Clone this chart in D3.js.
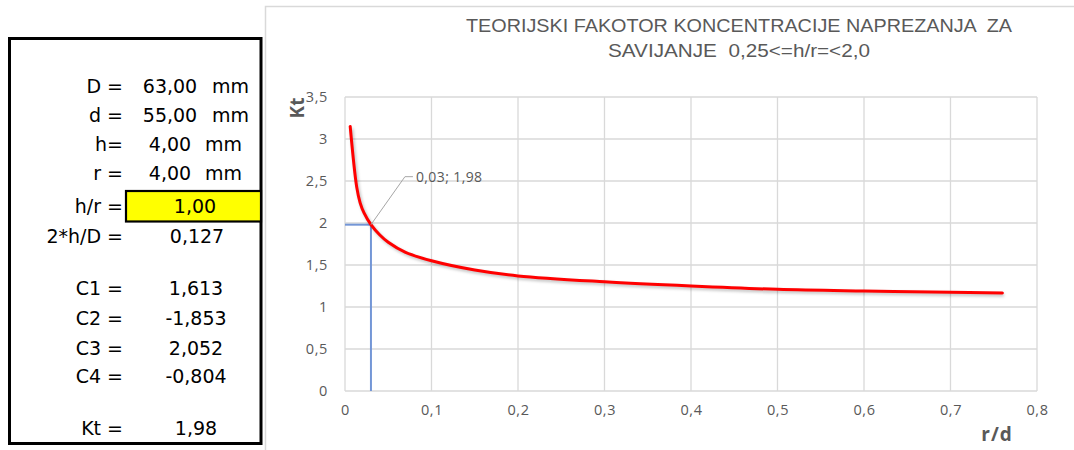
<!DOCTYPE html>
<html>
<head>
<meta charset="utf-8">
<script src="https://cdn.jsdelivr.net/npm/d3@7"></script>
<style>
  html, body { margin: 0; padding: 0; background: #fff; }
  svg { display: block; }
</style>
</head>
<body>
<svg id="chart" width="1074" height="450"></svg>
<script>
// ---------- data ----------
const rdValues = [0.006, 0.0135, 0.0175, 0.022, 0.03, 0.04, 0.05, 0.07, 0.1, 0.15, 0.2, 0.3, 0.4, 0.5, 0.6, 0.7, 0.76];
const ktValues = [3.15, 2.43, 2.24, 2.12, 1.98, 1.86, 1.77, 1.65, 1.55, 1.44, 1.37, 1.30, 1.25, 1.21, 1.19, 1.175, 1.167];
const markerPoint = [0.03, 1.98];
const markerLabel = "0,03; 1,98";
const xTicks = [0, 0.1, 0.2, 0.3, 0.4, 0.5, 0.6, 0.7, 0.8];
const yTicks = [0, 0.5, 1, 1.5, 2, 2.5, 3, 3.5];
const titleLines = ["TEORIJSKI FAKOTOR KONCENTRACIJE NAPREZANJA  ZA", "SAVIJANJE  0,25<=h/r=<2,0"];
const xAxisTitle = "r/d";
const yAxisTitle = "Kt";
const tableLabels = ["D =", "d =", "h=", "r =", "h/r =", "2*h/D =", "C1 =", "C2 =", "C3 =", "C4 =", "Kt ="];
const tableValues = ["63,00", "55,00", "4,00", "4,00", "1,00", "0,127", "1,613", "-1,853", "2,052", "-0,804", "1,98"];
const tableUnits  = ["mm", "mm", "mm", "mm", "", "", "", "", "", "", ""];

// ---------- layout ----------
const svg = d3.select("#chart");
const fmt = v => String(+v.toFixed(3)).replace(".", ",");

const x = d3.scaleLinear().domain([0, 0.8]).range([345, 1037]);
const y = d3.scaleLinear().domain([0, 3.5]).range([391, 97]);

// chart area border
svg.append("rect").attr("x", 265.5).attr("y", 6.5).attr("width", 900).attr("height", 600)
  .attr("fill", "#fff").attr("stroke", "#d9d9d9").attr("stroke-width", 1.5);

// ---------- left table ----------
svg.append("rect").attr("x", 9.5).attr("y", 38.5).attr("width", 251.5).attr("height", 405)
  .attr("fill", "#fff").attr("stroke", "#000").attr("stroke-width", 3);
svg.append("rect").attr("x", 126).attr("y", 191).attr("width", 135).attr("height", 30.5)
  .attr("fill", "#ffff00").attr("stroke", "#000").attr("stroke-width", 2.2);

const rowY = [93, 122, 151, 180, 213, 243, 295, 325, 355, 383, 435];
const valueCx = [170, 170, 170, 170, 195, 197, 196, 196, 196, 196, 196];
const unitX = [212, 212, 205, 205];
const tableFont = "'DejaVu Sans', Verdana, sans-serif";
const tg = svg.append("g").attr("font-family", tableFont).attr("font-size", 19).attr("fill", "#000");
tableLabels.forEach((t, i) => {
  tg.append("text").attr("x", 123).attr("y", rowY[i]).attr("text-anchor", "end").text(t);
  tg.append("text").attr("x", valueCx[i]).attr("y", rowY[i]).attr("text-anchor", "middle").text(tableValues[i]);
  if (tableUnits[i]) tg.append("text").attr("x", unitX[i]).attr("y", rowY[i]).text(tableUnits[i]);
});

// ---------- chart ----------
const grid = svg.append("g").attr("stroke", "#d9d9d9").attr("stroke-width", 1.3);
grid.selectAll("line.h").data(yTicks).join("line")
  .attr("x1", x(0)).attr("x2", x(0.8)).attr("y1", d => y(d)).attr("y2", d => y(d));
grid.selectAll("line.v").data(xTicks).join("line")
  .attr("y1", y(0)).attr("y2", y(3.5)).attr("x1", d => x(d)).attr("x2", d => x(d));

const tickFont = "'Open Sans', sans-serif";
const yAxis = d3.axisLeft(y).tickValues(yTicks).tickFormat(fmt).tickSize(0).tickPadding(17);
const gy = svg.append("g").attr("transform", `translate(${x(0)},0)`).call(yAxis);
gy.select(".domain").remove();
gy.selectAll("text").attr("font-family", tickFont).attr("font-size", 14.5).attr("fill", "#595959")
  .attr("letter-spacing", 0.6);

const xAxis = d3.axisBottom(x).tickValues(xTicks).tickFormat(fmt).tickSize(0).tickPadding(14);
const gx = svg.append("g").attr("transform", `translate(0,${y(0)})`).call(xAxis);
gx.select(".domain").remove();
gx.selectAll("text").attr("font-family", tickFont).attr("font-size", 14.5).attr("fill", "#595959")
  .attr("letter-spacing", 0.6);

// axis titles
svg.append("text").attr("transform", `translate(304,108) rotate(-90)`)
  .attr("text-anchor", "middle").attr("font-family", tickFont).attr("font-weight", "bold")
  .attr("font-size", 19).attr("fill", "#595959").text(yAxisTitle);
svg.append("text").attr("x", 997).attr("y", 441).attr("text-anchor", "middle")
  .attr("font-family", tickFont).attr("font-weight", "bold")
  .attr("font-size", 19).attr("fill", "#595959").attr("letter-spacing", 1).text(xAxisTitle);

// title
const titleWidths = [546, 262];
titleLines.forEach((t, i) => {
  svg.append("text").attr("font-family", "'Liberation Sans Narrow', 'Liberation Sans', Arial, sans-serif")
    .attr("font-size", 17.5).attr("fill", "#595959").attr("text-anchor", "middle")
    .attr("x", 739).attr("y", 32 + i * 25).attr("xml:space", "preserve")
    .attr("textLength", titleWidths[i]).attr("lengthAdjust", "spacingAndGlyphs").text(t);
});

// blue reference lines
const blue = svg.append("g").attr("stroke", "#7396d6").attr("stroke-width", 2).attr("fill", "none");
blue.append("line").attr("x1", x(0)).attr("x2", x(markerPoint[0]))
  .attr("y1", y(markerPoint[1])).attr("y2", y(markerPoint[1]));
blue.append("line").attr("x1", x(markerPoint[0])).attr("x2", x(markerPoint[0]))
  .attr("y1", y(0)).attr("y2", y(markerPoint[1]));

// curve
const pts = rdValues.map((v, i) => [v, ktValues[i]]);
const line = d3.line().x(d => x(d[0])).y(d => y(d[1])).curve(d3.curveCatmullRom.alpha(0.5));
const defs = svg.append("defs");
const f = defs.append("filter").attr("id", "blur").attr("x", "-10%").attr("y", "-10%").attr("width", "120%").attr("height", "130%");
f.append("feGaussianBlur").attr("stdDeviation", 1.5);
svg.append("path").datum(pts).attr("d", line).attr("fill", "none")
  .attr("stroke", "#000").attr("stroke-opacity", 0.25).attr("stroke-width", 3)
  .attr("transform", "translate(1.5,2)").attr("filter", "url(#blur)");
svg.append("path").datum(pts).attr("d", line).attr("fill", "none")
  .attr("stroke", "#ff0000").attr("stroke-width", 3).attr("stroke-linecap", "round");

// data label with leader
const px = x(markerPoint[0]), py = y(markerPoint[1]);
svg.append("polyline").attr("points", `${px},${py} ${px + 34},${py - 48} ${px + 42},${py - 48}`)
  .attr("fill", "none").attr("stroke", "#a6a6a6").attr("stroke-width", 1);
svg.append("text").attr("x", px + 45).attr("y", py - 43).attr("font-family", tickFont)
  .attr("font-size", 14).attr("fill", "#595959").attr("letter-spacing", 0.4).text(markerLabel);
</script>
</body>
</html>
